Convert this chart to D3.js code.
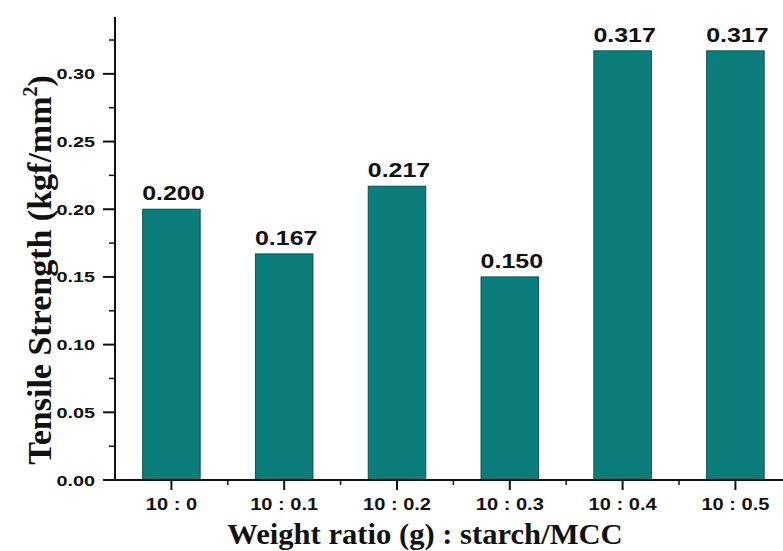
<!DOCTYPE html>
<html>
<head>
<meta charset="utf-8">
<script src="https://cdn.jsdelivr.net/npm/d3@7"></script>
<style>
  body { margin: 0; background: #fff; }
  svg { display: block; }
</style>
</head>
<body>
<svg id="chart" width="783" height="551"></svg>
<script>
const categories = ["10 : 0", "10 : 0.1", "10 : 0.2", "10 : 0.3", "10 : 0.4", "10 : 0.5"];
const values = [0.200, 0.167, 0.217, 0.150, 0.317, 0.317];
const valueLabels = ["0.200", "0.167", "0.217", "0.150", "0.317", "0.317"];
const yTicks = [0, 0.05, 0.10, 0.15, 0.20, 0.25, 0.30];
const yMinorTicks = [0.025, 0.075, 0.125, 0.175, 0.225, 0.275, 0.325];
const xTitle = "Weight ratio (g) : starch/MCC";
const yTitle = "Tensile Strength (kgf/mm";

(function () {
const svg = d3.select("#chart");
const W = 783, H = 551;
const mLeft = 115, mTop = 17, mBottom = 480;
const step = 112.8;

const x = d3.scaleBand()
  .domain(categories)
  .range([mLeft, mLeft + step * categories.length])
  .paddingInner(0.49)
  .paddingOuter(0.245);

const y = d3.scaleLinear().domain([0, 0.342]).range([mBottom, mTop]);

const sx = 1.28; // horizontal stretch of the original picture
const sans = "'Liberation Sans', Arial, sans-serif";
const serif = "'Liberation Serif', 'Times New Roman', serif";

// bars
svg.append("g").selectAll("rect")
  .data(values)
  .join("rect")
  .attr("x", (d, i) => x(categories[i]))
  .attr("y", d => y(d))
  .attr("width", x.bandwidth())
  .attr("height", d => y(0) - y(d))
  .attr("fill", "#0b7d7a")
  .attr("stroke", "#134f4d")
  .attr("stroke-width", 1);

// bar value labels
svg.append("g").selectAll("text")
  .data(values)
  .join("text")
  .attr("transform", (d, i) => `translate(${x(categories[i]) + x.bandwidth() / 2 + 2},${y(d) - 9}) scale(${sx},1)`)
  .attr("text-anchor", "middle")
  .attr("font-family", sans)
  .attr("font-weight", "bold")
  .attr("font-size", 19.5)
  .attr("fill", "#111")
  .text((d, i) => valueLabels[i]);

// y axis
const yAxis = svg.append("g").attr("transform", `translate(${mLeft},0)`);
yAxis.append("line").attr("x1", 0).attr("x2", 0).attr("y1", mTop).attr("y2", mBottom + 1)
  .attr("stroke", "#111").attr("stroke-width", 2);
yAxis.selectAll(".maj").data(yTicks).join("line").attr("class", "maj")
  .attr("x1", -12).attr("x2", 0).attr("y1", d => y(d)).attr("y2", d => y(d))
  .attr("stroke", "#111").attr("stroke-width", 2);
yAxis.selectAll(".min").data(yMinorTicks).join("line").attr("class", "min")
  .attr("x1", -6).attr("x2", 0).attr("y1", d => y(d)).attr("y2", d => y(d))
  .attr("stroke", "#111").attr("stroke-width", 1.5);
yAxis.selectAll("text").data(yTicks).join("text")
  .attr("transform", d => `translate(-20,${y(d) + 5.5}) scale(${sx},1)`)
  .attr("text-anchor", "end")
  .attr("font-family", sans).attr("font-weight", "bold").attr("font-size", 15.5)
  .attr("fill", "#111")
  .text(d => d3.format(".2f")(d));

// x axis
const xAxis = svg.append("g").attr("transform", `translate(0,${mBottom})`);
xAxis.append("line").attr("x1", mLeft - 4).attr("x2", W).attr("y1", 0).attr("y2", 0)
  .attr("stroke", "#111").attr("stroke-width", 2);
xAxis.selectAll(".maj").data(categories).join("line").attr("class", "maj")
  .attr("x1", d => x(d) + x.bandwidth() / 2).attr("x2", d => x(d) + x.bandwidth() / 2)
  .attr("y1", 0).attr("y2", 10)
  .attr("stroke", "#111").attr("stroke-width", 2);
xAxis.selectAll(".min").data(categories.slice(1)).join("line").attr("class", "min")
  .attr("x1", d => x(d) - x.step() * x.paddingInner() / 2).attr("x2", d => x(d) - x.step() * x.paddingInner() / 2)
  .attr("y1", 0).attr("y2", 5)
  .attr("stroke", "#111").attr("stroke-width", 1.5);
xAxis.selectAll("text").data(categories).join("text")
  .attr("transform", d => `translate(${x(d) + x.bandwidth() / 2},30) scale(${sx * 0.95},1)`)
  .attr("text-anchor", "middle")
  .attr("font-family", sans).attr("font-weight", "bold").attr("font-size", 16.5)
  .attr("fill", "#111")
  .text(d => d);

// x title
svg.append("text")
  .attr("transform", `translate(425,544) scale(1.02,1)`)
  .attr("text-anchor", "middle")
  .attr("font-family", serif).attr("font-weight", "bold").attr("font-size", 30)
  .attr("fill", "#111")
  .text(xTitle);

// y title
const yt = svg.append("text")
  .attr("transform", `translate(51,270) rotate(-90) scale(1,1.0)`)
  .attr("text-anchor", "middle")
  .attr("font-family", serif).attr("font-weight", "bold").attr("font-size", 34)
  .attr("fill", "#111");
yt.append("tspan").text(yTitle);
yt.append("tspan").attr("font-size", 20).attr("dy", -14).text("2");
yt.append("tspan").attr("dy", 14).text(")");
})();
</script>
</body>
</html>
